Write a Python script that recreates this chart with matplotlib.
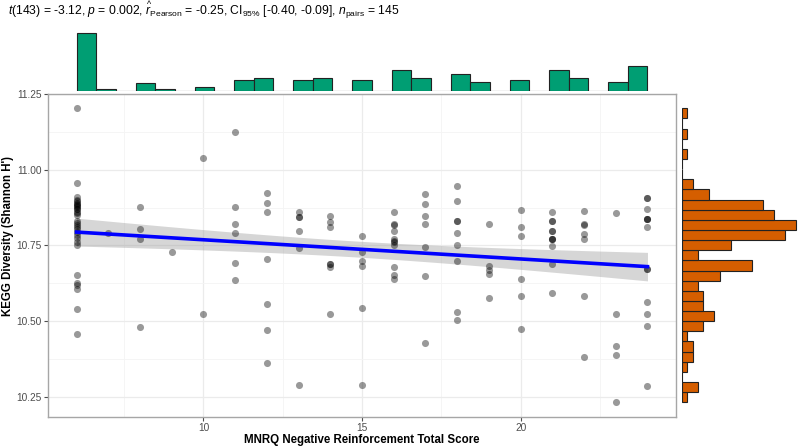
import numpy as np
import matplotlib
matplotlib.use("Agg")
import matplotlib.pyplot as plt
from matplotlib.ticker import MultipleLocator

plt.rcParams['font.family'] = ['Liberation Sans', 'DejaVu Sans']
plt.rcParams['mathtext.fontset'] = 'custom'
plt.rcParams['mathtext.rm'] = 'Liberation Sans'
plt.rcParams['mathtext.it'] = 'Liberation Sans:italic'
plt.rcParams['mathtext.bf'] = 'Liberation Sans:bold'

# MNRQ negative reinforcement score, one entry per subject
score = [
    6, 6, 6, 6, 6, 6, 6, 6, 6, 6, 6, 6, 6, 6, 6, 6, 6, 6, 6, 6, 6, 6, 6, 6, 6, 6, 6, 6, 6, 6, 6,
    7,
    8, 8, 8, 8,
    9,
    10, 10,
    11, 11, 11, 11, 11, 11,
    12, 12, 12, 12, 12, 12, 12,
    13, 13, 13, 13, 13, 13,
    14, 14, 14, 14, 14, 14, 14,
    15, 15, 15, 15, 15, 15,
    16, 16, 16, 16, 16, 16, 16, 16, 16, 16, 16,
    17, 17, 17, 17, 17, 17, 17,
    18, 18, 18, 18, 18, 18, 18, 18, 18,
    19, 19, 19, 19, 19,
    20, 20, 20, 20, 20, 20,
    21, 21, 21, 21, 21, 21, 21, 21, 21, 21, 21,
    22, 22, 22, 22, 22, 22, 22,
    23, 23, 23, 23, 23,
    24, 24, 24, 24, 24, 24, 24, 24, 24, 24, 24, 24, 24,
]

# KEGG Shannon diversity, same order as score
diversity = [
    11.204, 10.958, 10.912, 10.900, 10.896, 10.892, 10.888, 10.884, 10.880, 10.876,
    10.872, 10.870, 10.862, 10.856, 10.850, 10.830, 10.824, 10.818, 10.812, 10.806,
    10.795, 10.785, 10.775, 10.760, 10.750, 10.652, 10.625, 10.618, 10.605, 10.540, 10.456,
    10.790,
    10.876, 10.805, 10.770, 10.481,
    10.730,
    11.040, 10.522,
    11.124, 10.877, 10.820, 10.790, 10.691, 10.636,
    10.924, 10.890, 10.862, 10.704, 10.557, 10.470, 10.362,
    10.860, 10.843, 10.843, 10.798, 10.743, 10.288,
    10.849, 10.829, 10.810, 10.690, 10.688, 10.678, 10.523,
    10.783, 10.727, 10.699, 10.683, 10.544, 10.288,
    10.860, 10.822, 10.818, 10.799, 10.770, 10.766, 10.762, 10.752, 10.680, 10.652, 10.638,
    10.921, 10.887, 10.848, 10.822, 10.745, 10.648, 10.428,
    10.947, 10.898, 10.831, 10.831, 10.792, 10.753, 10.699, 10.530, 10.503,
    10.822, 10.682, 10.669, 10.656, 10.575,
    10.866, 10.812, 10.783, 10.639, 10.582, 10.472,
    10.861, 10.832, 10.832, 10.799, 10.799, 10.773, 10.773, 10.773, 10.748, 10.688, 10.593,
    10.865, 10.821, 10.819, 10.787, 10.770, 10.583, 10.382,
    10.858, 10.523, 10.417, 10.386, 10.231,
    10.906, 10.906, 10.872, 10.839, 10.839, 10.839, 10.810, 10.673, 10.673, 10.564, 10.522, 10.482, 10.286,
]

subtitle = (r"$\it{t}$(143) = -3.12, $\it{p}$ = 0.002, $\widehat{\it{r}}_{\rm Pearson}$ = -0.25, "
            r"CI$_{95\%}$ [-0.40, -0.09], $\it{n}_{\rm pairs}$ = 145")

x = np.array(score, dtype=float)
y = np.array(diversity)

W, H = 798, 447
fig = plt.figure(figsize=(W / 100, H / 100), dpi=100)

def frac(l, t, r, b):
    return [l / W, 1 - b / H, (r - l) / W, (b - t) / H]

ax = fig.add_axes(frac(48, 93.6, 676, 417))
ax_top = fig.add_axes(frac(48, 25, 676, 91))
ax_right = fig.add_axes(frac(681.7, 93.6, 798, 417))

xpad = (x.max() - x.min()) * 0.05
ypad = (y.max() - y.min()) * 0.05
xlim = (x.min() - xpad, x.max() + xpad)
ylim = (y.min() - ypad, y.max() + ypad)

# grid
ax.set_xlim(xlim)
ax.set_ylim(ylim)
ax.xaxis.set_major_locator(MultipleLocator(5))
ax.xaxis.set_minor_locator(MultipleLocator(2.5))
ax.yaxis.set_major_locator(MultipleLocator(0.25))
ax.yaxis.set_minor_locator(MultipleLocator(0.125))
ax.grid(which='major', color='#EBEBEB', lw=0.9)
ax.grid(which='minor', color='#F4F4F4', lw=0.6)
ax.set_axisbelow(True)
ax.tick_params(which='minor', length=0)
ax.tick_params(which='major', length=3, color='#4D4D4D', labelsize=7.3, labelcolor='#4D4D4D', pad=1.5)
ax.yaxis.set_major_formatter(plt.FormatStrFormatter('%.2f'))
for s in ax.spines.values():
    s.set_color('#A6A6A6')
    s.set_linewidth(1.0)

# regression with 95% CI
n = len(x)
b1, b0 = np.polyfit(x, y, 1)
resid = y - (b0 + b1 * x)
sig = np.sqrt(np.sum(resid ** 2) / (n - 2))
xs = np.linspace(x.min(), x.max(), 100)
se = sig * np.sqrt(1 / n + (xs - x.mean()) ** 2 / np.sum((x - x.mean()) ** 2))
tq = 1.9766
fit = b0 + b1 * xs
ax.fill_between(xs, fit - tq * se, fit + tq * se, color='#999999', alpha=0.4, lw=0, zorder=2)
ax.scatter(x, y, s=26, color='black', alpha=0.4, lw=0, zorder=3)
ax.plot(xs, fit, color='#0000FF', lw=2.6, zorder=4)

fig.text(362 / W, 1 - 440.5 / H, "MNRQ Negative Reinforcement Total Score", fontsize=8.3,
         fontweight='bold', ha='center', va='center')
fig.text(8 / W, 1 - 236 / H, "KEGG Diversity (Shannon H')", rotation=90, fontsize=8.3,
         fontweight='bold', ha='center', va='center')

# marginal histograms
xbins = np.linspace(x.min(), x.max(), 30)
ybins = np.linspace(y.min(), y.max(), 30)
ax_top.hist(x, bins=xbins, color='#009E73', edgecolor='#222222', lw=0.8)
ax_top.set_xlim(xlim)
ax_top.set_ylim(0, 35)
ax_top.axis('off')

ax_right.hist(y, bins=ybins, orientation='horizontal', color='#D55E00', edgecolor='#222222', lw=0.8)
ax_right.set_ylim(ylim)
ax_right.set_xlim(0, 21.4)
ax_right.axis('off')

fig.text(8 / W, 1 - 10 / H, subtitle, fontsize=8.7, ha='left', va='center')

fig.savefig("out.png", dpi=100)
